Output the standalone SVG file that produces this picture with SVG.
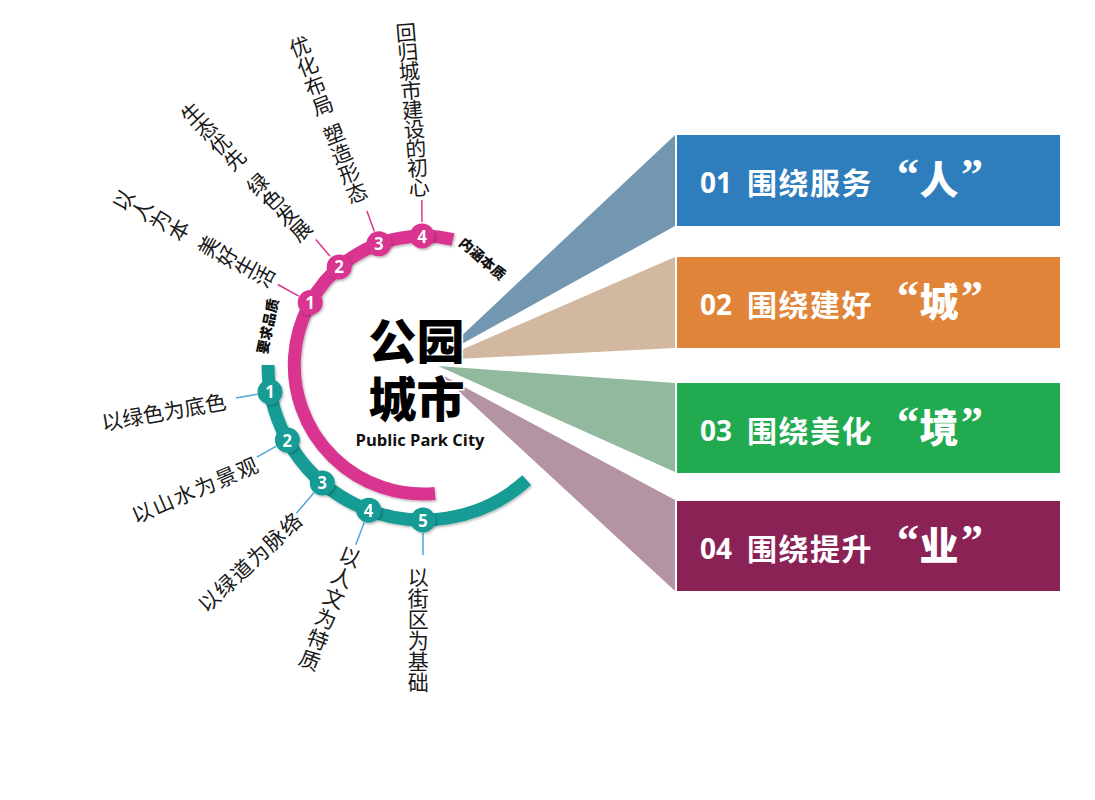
<svg xmlns="http://www.w3.org/2000/svg" width="1095" height="800" viewBox="0 0 1095 800">
<defs>
<filter id="sh" x="-20%" y="-20%" width="140%" height="140%">
<feDropShadow dx="1.2" dy="1.5" stdDeviation="1" flood-color="#000" flood-opacity="0.28"/>
</filter>
<style>
.lbl{font-family:"Noto Sans CJK SC","Noto Sans",sans-serif;font-size:21px;fill:#1a1a1a;}
.vt{writing-mode:vertical-rl;}
.hz{dominant-baseline:central;}
.tag{font-family:"Noto Sans CJK SC","Noto Sans",sans-serif;font-size:14px;font-weight:900;fill:#111;text-anchor:middle;dominant-baseline:central;}
.num{font-family:"Open Sans","Liberation Sans",sans-serif;font-size:17px;font-weight:700;fill:#fff;text-anchor:middle;dominant-baseline:central;}
.mg{fill:#d93690;}
.tl{fill:#139b95;}
.lm{stroke:#d93690;stroke-width:1.5;fill:none;}
.lt{stroke:#4ea6dc;stroke-width:1.5;fill:none;}
.pn{font-family:"Noto Sans CJK SC","Noto Sans",sans-serif;fill:#fff;font-weight:700;}
.pd{font-family:"Open Sans","Liberation Sans",sans-serif;fill:#fff;font-weight:700;font-size:28px;}
.q{font-family:"Liberation Serif",serif;fill:#fff;font-weight:700;font-size:44px;}
.big{font-family:"Noto Sans CJK SC",sans-serif;fill:#fff;font-weight:900;font-size:39px;text-anchor:middle;}
</style>
</defs>
<rect width="1095" height="800" fill="#fff"/>

<!-- wedges -->
<g id="wedges">
<polygon points="440,356 675,135 675,226" fill="#7397b0"/>
<polygon points="438,360 675,257 675,348" fill="#d2b8a1"/>
<polygon points="438,366 675,383 675,472" fill="#92b89d"/>
<polygon points="440,374 675,500 675,591" fill="#b393a4"/>
</g>

<!-- panels -->
<g id="panel1">
<rect x="677" y="135" width="383" height="91" fill="#2e7dbd"/>
<text class="pd" x="700" y="193">01</text>
<text class="pn" x="747" y="194" font-size="30" letter-spacing="1.5">围绕服务</text>
<text class="q" x="897" y="189">“</text>
<text class="big" x="939" y="194">人</text>
<text class="q" x="961" y="189">”</text>
</g>
<g id="panel2">
<rect x="677" y="257" width="383" height="91" fill="#e0843a"/>
<text class="pd" x="700" y="315">02</text>
<text class="pn" x="747" y="316" font-size="30" letter-spacing="1.5">围绕建好</text>
<text class="q" x="897" y="311">“</text>
<text class="big" x="939" y="316">城</text>
<text class="q" x="961" y="311">”</text>
</g>
<g id="panel3">
<rect x="677" y="383" width="383" height="90" fill="#22aa50"/>
<text class="pd" x="700" y="441">03</text>
<text class="pn" x="747" y="442" font-size="30" letter-spacing="1.5">围绕美化</text>
<text class="q" x="897" y="437">“</text>
<text class="big" x="939" y="442">境</text>
<text class="q" x="961" y="437">”</text>
</g>
<g id="panel4">
<rect x="677" y="501" width="383" height="90" fill="#8a2256"/>
<text class="pd" x="700" y="559">04</text>
<text class="pn" x="747" y="560" font-size="30" letter-spacing="1.5">围绕提升</text>
<text class="q" x="897" y="555">“</text>
<text class="big" x="939" y="560">业</text>
<text class="q" x="961" y="555">”</text>
</g>

<!-- arcs -->
<g id="arcs" filter="url(#sh)">
<path d="M435,493.5 A129,129 0 1 1 453,239.5" fill="none" stroke="#d93690" stroke-width="13"/>
<path d="M268,365 A155,155 0 0 0 526.7,480.2" fill="none" stroke="#139b95" stroke-width="13"/>
</g>

<!-- connectors -->
<g id="connectors">
<line class="lm" x1="298.8" y1="296.2" x2="277.8" y2="284.5"/>
<line class="lm" x1="330.1" y1="256.3" x2="315.8" y2="239.5"/>
<line class="lm" x1="374.4" y1="231.6" x2="366.9" y2="210.9"/>
<line class="lm" x1="422" y1="222" x2="421.8" y2="200"/>
<line class="lt" x1="257.6" y1="394.2" x2="235.9" y2="398"/>
<line class="lt" x1="276" y1="446.4" x2="256.8" y2="457.1"/>
<line class="lt" x1="313.9" y1="492.7" x2="296.4" y2="513.3"/>
<line class="lt" x1="364.2" y1="522.4" x2="355.8" y2="544.8"/>
<line class="lt" x1="423" y1="533" x2="423" y2="555"/>
</g>

<!-- magenta nodes -->
<g id="m1" filter="url(#sh)"><circle cx="310.2" cy="302.5" r="12.5" class="mg"/><text class="num" x="310.2" y="302.5">1</text></g>
<g id="m2" filter="url(#sh)"><circle cx="339.2" cy="266.9" r="12.5" class="mg"/><text class="num" x="339.2" y="266.9">2</text></g>
<g id="m3" filter="url(#sh)"><circle cx="378.9" cy="243.8" r="12.5" class="mg"/><text class="num" x="378.9" y="243.8">3</text></g>
<g id="m4" filter="url(#sh)"><circle cx="422.1" cy="236" r="12.5" class="mg"/><text class="num" x="422.1" y="236">4</text></g>

<!-- teal nodes -->
<g id="t1" filter="url(#sh)"><circle cx="270" cy="391.9" r="12.5" class="tl"/><text class="num" x="270" y="391.9">1</text></g>
<g id="t2" filter="url(#sh)"><circle cx="287.4" cy="440.1" r="12.5" class="tl"/><text class="num" x="287.4" y="440.1">2</text></g>
<g id="t3" filter="url(#sh)"><circle cx="322.3" cy="482.9" r="12.5" class="tl"/><text class="num" x="322.3" y="482.9">3</text></g>
<g id="t4" filter="url(#sh)"><circle cx="368.7" cy="510.2" r="12.5" class="tl"/><text class="num" x="368.7" y="510.2">4</text></g>
<g id="t5" filter="url(#sh)"><circle cx="423" cy="520" r="12.5" class="tl"/><text class="num" x="423" y="520">5</text></g>

<!-- arc tags -->
<text class="tag" transform="translate(267,326) rotate(-78)">要求品质</text>
<text class="tag" transform="translate(483,258) rotate(41)">内涵本质</text>

<!-- magenta labels -->
<g id="label-m1"><text class="lbl vt" transform="translate(114.1,195) rotate(-61.5)" x="0" y="0">以人为本<tspan dy="13">美好生活</tspan></text></g>
<g id="label-m2"><text class="lbl vt" font-size="21.5" transform="translate(184.5,105.6) rotate(-43)" x="0" y="0">生态优先<tspan dy="13">绿色发展</tspan></text></g>
<g id="label-m3"><text class="lbl vt" font-size="21.5" transform="translate(296.1,36.7) rotate(-21.2)" x="0" y="0">优化布局<tspan dy="10">塑造形态</tspan></text></g>
<g id="label-m4"><text class="lbl vt" font-size="18.5" letter-spacing="-1.6" transform="translate(405.2,22) rotate(-4.8)" x="0" y="0">回归城市建设的初心</text></g>

<!-- teal labels -->
<g id="label-t1"><text class="lbl hz" transform="translate(101.4,421.8) rotate(-9.9)" x="0" y="0">以绿色为底色</text></g>
<g id="label-t2"><text class="lbl hz" letter-spacing="1.8" transform="translate(132.1,515.8) rotate(-23.2)" x="0" y="0">以山水为景观</text></g>
<g id="label-t3"><text class="lbl hz" letter-spacing="1.4" transform="translate(200.6,607.2) rotate(-43.2)" x="0" y="0">以绿道为脉络</text></g>
<g id="label-t4"><text class="lbl vt" letter-spacing="1.2" transform="translate(353.8,546.9) rotate(21.2)" x="0" y="0">以人文为特质</text></g>
<g id="label-t5"><text class="lbl vt" font-size="20.5" transform="translate(418.3,566.4)" x="0" y="0">以街区为基础</text></g>

<!-- center -->
<g id="center">
<text x="416.5" y="359" font-family="Noto Sans CJK SC, sans-serif" font-weight="900" font-size="48" text-anchor="middle" fill="#000" stroke="#fff" stroke-width="3" paint-order="stroke">公园</text>
<text x="416.5" y="417" font-family="Noto Sans CJK SC, sans-serif" font-weight="900" font-size="48" text-anchor="middle" fill="#000" stroke="#fff" stroke-width="3" paint-order="stroke">城市</text>
<text x="420" y="446" font-family="Open Sans, Liberation Sans, sans-serif" font-weight="700" font-size="16.5" text-anchor="middle" fill="#111">Public Park City</text>
</g>
</svg>
